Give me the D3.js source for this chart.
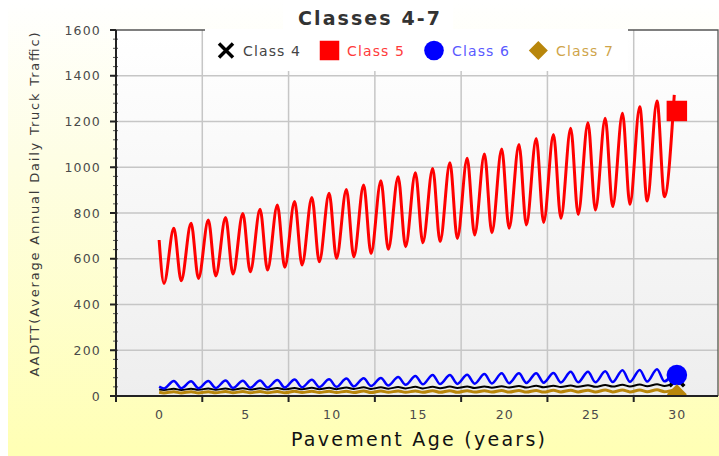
<!DOCTYPE html>
<html>
<head>
<meta charset="utf-8">
<script src="https://cdn.jsdelivr.net/npm/d3@7/dist/d3.min.js"></script>
<style>
  html, body { margin: 0; padding: 0; background: #ffffff; }
  svg { display: block; }
</style>
</head>
<body>
<svg id="chart" width="719" height="456"></svg>
<script>
// ---- Data -----------------------------------------------------------------
const seriesNames = ["Class 4", "Class 5", "Class 6", "Class 7"];
const xTickLabels = [0, 5, 10, 15, 20, 25, 30];
const yTickLabels = [0, 200, 400, 600, 800, 1000, 1200, 1400, 1600];

// Each year has one seasonal low (around April) and one high (around October).
const lowFraction = 0.28;   // fraction of the year where the low falls
const highFraction = 0.85;  // fraction of the year where the high falls

// Class 4
const class4Start = 28;
const class4Lows  = [26, 26, 27, 27, 27, 28, 28, 29, 29, 30, 30, 31, 31, 32, 33,
                     33, 34, 35, 35, 36, 37, 37, 38, 39, 40, 40, 41, 42, 43, 44];
const class4Highs = [32, 32, 33, 33, 34, 34, 35, 35, 36, 36, 37, 38, 38, 39, 40,
                     40, 41, 42, 42, 43, 44, 45, 45, 46, 47, 48, 49, 50, 51, 55];
// Class 5
const class5Start = 682;
const class5Lows  = [492, 504, 514, 525, 533, 543, 551, 563, 573, 587, 602, 609, 623, 641, 653,
                     670, 675, 689, 704, 714, 733, 748, 759, 777, 794, 813, 828, 838, 852, 871];
const class5Highs = [733, 755, 769, 780, 798, 816, 835, 850, 868, 886, 903, 922, 941, 959, 976,
                     995, 1020, 1039, 1058, 1080, 1100, 1126, 1143, 1170, 1195, 1214, 1236, 1265, 1290, 1316];
// Class 6
const class6Start = 41;
const class6Lows  = [33, 34, 34, 35, 35, 36, 37, 37, 38, 39, 40, 42, 44, 46, 49,
                     51, 52, 53, 54, 55, 56, 57, 58, 59, 60, 60, 61, 62, 63, 64];
const class6Highs = [66, 64, 66, 68, 67, 68, 70, 72, 71, 73, 76, 78, 79, 83, 87,
                     92, 92, 93, 96, 99, 99, 100, 101, 106, 106, 108, 113, 114, 117, 116];
// Class 7
const class7Start = 16;
const class7Lows  = [13, 13, 13, 14, 14, 14, 14, 14, 15, 15, 15, 15, 15, 16, 16,
                     16, 16, 16, 17, 17, 17, 17, 17, 18, 18, 18, 18, 18, 19, 19];
const class7Highs = [19, 19, 19, 20, 20, 20, 20, 21, 21, 21, 21, 22, 22, 22, 22,
                     23, 23, 23, 23, 24, 24, 24, 25, 25, 25, 26, 26, 26, 27, 27];

// Year-30 summary values shown with the series symbols
const endAge = 30;
const endValues = [75, 1246, 92, 8];

const seriesColors = ["#000000", "#ff0000", "#0000ff", "#b8860b"];
const legendTextColors = ["#444444", "#ff3b3b", "#5a5aff", "#cfa54a"];
const lineWidths = [2, 3, 2.5, 3];

// ---- Build series ---------------------------------------------------------
function buildSeries(start, lows, highs) {
  const pts = [{ age: 0, value: start }];
  lows.forEach((lo, i) => {
    pts.push({ age: i + lowFraction, value: lo });
    pts.push({ age: i + highFraction, value: highs[i] });
  });
  return pts;
}
const series = [
  buildSeries(class4Start, class4Lows, class4Highs),
  buildSeries(class5Start, class5Lows, class5Highs),
  buildSeries(class6Start, class6Lows, class6Highs),
  buildSeries(class7Start, class7Lows, class7Highs)
];

// ---- Layout ---------------------------------------------------------------
const svg = d3.select("#chart");
const W = 719, H = 456;
const plot = { left: 116, top: 30, right: 718, bottom: 396 };

const x = d3.scaleLinear().domain([-2.5, 32.5]).range([plot.left, 720]);
const y = d3.scaleLinear().domain([0, 1600]).range([plot.bottom, plot.top]);

const defs = svg.append("defs");
const bgGrad = defs.append("linearGradient").attr("id", "bgGrad")
  .attr("x1", 0).attr("y1", 0).attr("x2", 0).attr("y2", 1);
bgGrad.append("stop").attr("offset", "0%").attr("stop-color", "#ffffff");
bgGrad.append("stop").attr("offset", "35%").attr("stop-color", "#fefee4");
bgGrad.append("stop").attr("offset", "100%").attr("stop-color", "#ffffb4");

const plotGrad = defs.append("linearGradient").attr("id", "plotGrad")
  .attr("x1", 0).attr("y1", 0).attr("x2", 0).attr("y2", 1);
plotGrad.append("stop").attr("offset", "0%").attr("stop-color", "#ffffff");
plotGrad.append("stop").attr("offset", "100%").attr("stop-color", "#eeeeee");

defs.append("clipPath").attr("id", "plotClip")
  .append("rect")
  .attr("x", plot.left).attr("y", plot.top)
  .attr("width", plot.right - plot.left).attr("height", plot.bottom - plot.top);

// Panel background
svg.append("rect").attr("x", 8).attr("y", 0).attr("width", W - 8).attr("height", H)
  .attr("fill", "url(#bgGrad)");

// Plot background
svg.append("rect")
  .attr("x", plot.left).attr("y", plot.top)
  .attr("width", plot.right - plot.left).attr("height", plot.bottom - plot.top)
  .attr("fill", "url(#plotGrad)");

// Grid
const grid = svg.append("g").attr("stroke", "#c6c6c6").attr("stroke-width", 1.5);
grid.selectAll("line.h").data(yTickLabels.filter(v => v > 0 && v < 1600)).join("line")
  .attr("x1", plot.left).attr("x2", plot.right)
  .attr("y1", d => y(d)).attr("y2", d => y(d));
const vGrid = d3.range(2.5, 30, 5);
grid.selectAll("line.v").data(vGrid).join("line")
  .attr("x1", d => x(d)).attr("x2", d => x(d))
  .attr("y1", plot.top).attr("y2", plot.bottom);

// Lines
const line = d3.line()
  .x(d => x(d.age))
  .y(d => y(d.value))
  .curve(d3.curveMonotoneX);

const lines = svg.append("g").attr("clip-path", "url(#plotClip)");
series.forEach((s, i) => {
  lines.append("path")
    .datum(s)
    .attr("fill", "none")
    .attr("stroke", seriesColors[i])
    .attr("stroke-width", lineWidths[i])
    .attr("stroke-linejoin", "round")
    .attr("d", line);
});

// Symbols
function drawSymbol(g, idx, cx, cy, scale) {
  const c = seriesColors[idx];
  if (idx === 0) {
    const r = 7 * scale;
    g.append("path")
      .attr("d", `M${cx - r},${cy - r}L${cx + r},${cy + r}M${cx + r},${cy - r}L${cx - r},${cy + r}`)
      .attr("stroke", c).attr("stroke-width", 3.5 * scale).attr("fill", "none");
  } else if (idx === 1) {
    const s = 19.5 * scale;
    g.append("rect").attr("x", cx - s / 2).attr("y", cy - s / 2)
      .attr("width", s).attr("height", s).attr("fill", c);
  } else if (idx === 2) {
    g.append("circle").attr("cx", cx).attr("cy", cy).attr("r", 9.8 * scale).attr("fill", c);
  } else {
    const r = 9.5 * scale;
    g.append("path")
      .attr("d", `M${cx},${cy - r}L${cx + r},${cy}L${cx},${cy + r}L${cx - r},${cy}Z`)
      .attr("fill", c);
  }
}
const marks = svg.append("g").attr("clip-path", "url(#plotClip)");
endValues.forEach((v, i) => drawSymbol(marks, i, x(endAge), y(v), 1.05));

// Axes
const axisColor = "#222222";
const tickTextColor = "#4a4a4a";
const axes = svg.append("g");

// Top and right frame
axes.append("path")
  .attr("d", `M${plot.left},${plot.top}H${plot.right}V${plot.bottom}`)
  .attr("fill", "none").attr("stroke", "#555555").attr("stroke-width", 1.3);

// Y axis minor ticks
axes.selectAll("line.ymin").data(d3.range(0, 1600, 40)).join("line")
  .attr("x1", plot.left - 3).attr("x2", plot.left + 2)
  .attr("y1", d => y(d)).attr("y2", d => y(d))
  .attr("stroke", "#555").attr("stroke-width", 1);

// Y axis major ticks and labels
axes.selectAll("line.ymaj").data(yTickLabels).join("line")
  .attr("x1", plot.left - 6).attr("x2", plot.left)
  .attr("y1", d => y(d)).attr("y2", d => y(d))
  .attr("stroke", axisColor).attr("stroke-width", 2);
axes.selectAll("text.ylab").data(yTickLabels).join("text")
  .attr("x", 101).attr("y", d => y(d) + 4.5)
  .attr("text-anchor", "end")
  .attr("font-family", "DejaVu Sans, Verdana, sans-serif")
  .attr("font-size", 12.5).attr("letter-spacing", 1.2)
  .attr("fill", tickTextColor)
  .text(d => d);

// X axis ticks and labels
axes.selectAll("line.xmaj").data(d3.range(-2.5, 33, 5)).join("line")
  .attr("x1", d => x(d)).attr("x2", d => x(d))
  .attr("y1", plot.bottom).attr("y2", plot.bottom + 6)
  .attr("stroke", axisColor).attr("stroke-width", 2);
axes.selectAll("text.xlab").data(xTickLabels).join("text")
  .attr("x", d => x(d) + 0.5).attr("y", 418.5)
  .attr("text-anchor", "middle")
  .attr("font-family", "DejaVu Sans, Verdana, sans-serif")
  .attr("font-size", 12.5).attr("letter-spacing", 1.2)
  .attr("fill", tickTextColor)
  .text(d => d);

// Axis lines
axes.append("line").attr("x1", plot.left).attr("x2", plot.left)
  .attr("y1", plot.top).attr("y2", plot.bottom + 1)
  .attr("stroke", axisColor).attr("stroke-width", 2);
axes.append("line").attr("x1", plot.left - 1).attr("x2", plot.right)
  .attr("y1", plot.bottom).attr("y2", plot.bottom)
  .attr("stroke", axisColor).attr("stroke-width", 2);

// Axis titles
svg.append("text")
  .attr("x", 418).attr("y", 445.5)
  .attr("text-anchor", "middle")
  .attr("font-family", "DejaVu Sans, Verdana, sans-serif")
  .attr("font-size", 19).attr("fill", "#111111")
  .attr("textLength", 254).attr("lengthAdjust", "spacing")
  .text("Pavement Age (years)");

svg.append("text")
  .attr("transform", "translate(38.5,204.5) rotate(-90)")
  .attr("text-anchor", "middle")
  .attr("font-family", "DejaVu Sans, Verdana, sans-serif")
  .attr("font-size", 13).attr("fill", "#3a3a3a")
  .attr("textLength", 344).attr("lengthAdjust", "spacing")
  .text("AADTT(Average Annual Daily Truck Traffic)");

// Title and legend backgrounds
svg.append("rect").attr("x", 283).attr("y", 0).attr("width", 170).attr("height", 29)
  .attr("fill", "#ffffff");
svg.append("rect").attr("x", 205).attr("y", 29).attr("width", 423).attr("height", 42)
  .attr("fill", "#ffffff");

// Title
svg.append("text")
  .attr("x", 369).attr("y", 24.5)
  .attr("text-anchor", "middle")
  .attr("font-family", "DejaVu Sans, Verdana, sans-serif")
  .attr("font-weight", "bold")
  .attr("font-size", 19).attr("fill", "#333333")
  .attr("textLength", 142).attr("lengthAdjust", "spacing")
  .text("Classes 4-7");

// Legend
const legendSymbolX = [226, 329.5, 434, 538.3];
const legendTextX = [243, 347, 452, 556];
const legend = svg.append("g");
seriesNames.forEach((name, i) => {
  drawSymbol(legend, i, legendSymbolX[i], 50.5, 1);
  legend.append("text")
    .attr("x", legendTextX[i]).attr("y", 55.5)
    .attr("font-family", "DejaVu Sans, Verdana, sans-serif")
    .attr("font-size", 14).attr("fill", legendTextColors[i])
    .attr("textLength", 57).attr("lengthAdjust", "spacing")
    .text(name);
});
</script>
</body>
</html>
